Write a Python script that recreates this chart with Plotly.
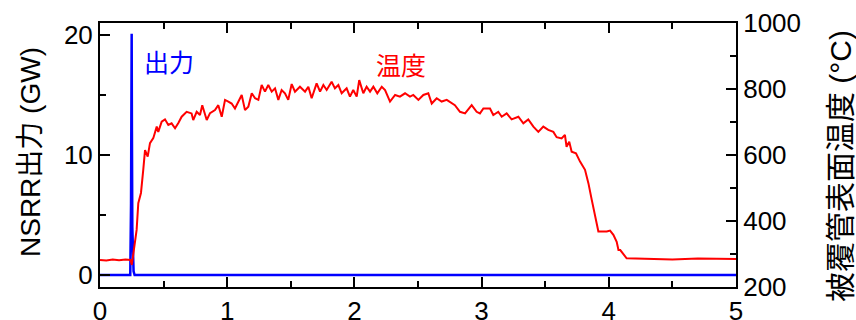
import plotly.graph_objects as go

# Reactor power pulse (GW) vs time (s)
power_time = [0.0, 0.238, 0.244, 0.247, 0.249, 0.251, 0.254, 0.258, 0.264, 0.272, 5.0]
power_gw = [0.0, 0.0, 6.0, 14.0, 20.1, 12.0, 4.0, 1.0, 0.3, 0.0, 0.0]

# Cladding surface temperature (degC) vs time (s)
temp_time = [
    0.0, 0.05, 0.10, 0.15, 0.20, 0.24, 0.25, 0.288, 0.301, 0.322, 0.34, 0.354,
    0.375, 0.393, 0.419, 0.446, 0.458, 0.485, 0.511, 0.537, 0.563, 0.59, 0.616,
    0.642, 0.681, 0.72, 0.733, 0.76, 0.786, 0.804, 0.839, 0.865, 0.904, 0.93,
    0.957, 0.983, 1.009, 1.035, 1.061, 1.114, 1.14, 1.166, 1.193, 1.219, 1.245,
    1.271, 1.297, 1.323, 1.35, 1.376, 1.402, 1.428, 1.454, 1.48, 1.507, 1.533,
    1.572, 1.612, 1.638, 1.664, 1.703, 1.73, 1.756, 1.782, 1.821, 1.847, 1.874,
    1.9, 1.939, 1.965, 1.991, 2.018, 2.038, 2.07, 2.096, 2.123, 2.149, 2.18,
    2.215, 2.241, 2.28, 2.32, 2.358, 2.398, 2.437, 2.463, 2.503, 2.542, 2.581,
    2.608, 2.647, 2.686, 2.726, 2.765, 2.79, 2.83, 2.87, 2.922, 2.961, 2.987,
    3.014, 3.066, 3.092, 3.131, 3.158, 3.197, 3.236, 3.289, 3.328, 3.367, 3.407,
    3.446, 3.485, 3.524, 3.564, 3.59, 3.629, 3.655, 3.668, 3.689, 3.708, 3.742,
    3.774, 3.813, 3.84, 3.866, 3.892, 3.918, 3.984, 4.01, 4.036, 4.062, 4.076,
    4.09, 4.14, 4.3, 4.5, 4.7, 4.9, 5.0,
]
temp_c = [
    282, 280, 283, 281, 283, 282, 267, 373, 454, 485, 555, 615,
    595, 636, 651, 686, 670, 701, 708, 691, 696, 681, 697,
    716, 731, 726, 706, 731, 721, 751, 706, 727, 736, 751,
    716, 767, 762, 756, 741, 782, 736, 746, 787, 772, 767,
    812, 792, 812, 792, 802, 767, 797, 787, 767, 815, 792,
    807, 792, 807, 772, 817, 792, 812, 797, 822, 802, 812,
    787, 802, 777, 797, 777, 827, 787, 807, 792, 807, 787,
    807, 797, 762, 782, 777, 787, 777, 782, 767, 782, 787,
    756, 772, 762, 767, 756, 751, 731, 726, 751, 731, 726,
    741, 741, 721, 731, 716, 726, 708, 716, 696, 708, 686,
    670, 686, 676, 670, 654, 650, 661, 625, 640, 610, 605,
    580, 555, 514, 464, 418, 368, 368, 371, 358, 337, 312,
    312, 287, 285, 283, 286, 284, 285,
]

FONT = "Liberation Sans, Arial, Noto Sans CJK JP, sans-serif"
BLUE = "#0000FF"
RED = "#FF0000"

fig = go.Figure()

fig.add_trace(go.Scatter(
    x=temp_time, y=temp_c, mode="lines", yaxis="y2",
    line=dict(color=RED, width=2), showlegend=False,
))
fig.add_trace(go.Scatter(
    x=power_time, y=power_gw, mode="lines", yaxis="y",
    line=dict(color=BLUE, width=2.5), showlegend=False,
))

axis_common = dict(
    showgrid=False, zeroline=False, showline=True, linecolor="black",
    linewidth=2, ticks="inside", ticklen=10, tickwidth=2, tickcolor="black",
    tickfont=dict(family=FONT, size=26, color="black"), automargin=False,
)

fig.update_layout(
    width=856, height=320,
    margin=dict(l=100, r=120, t=23, b=33),
    paper_bgcolor="white", plot_bgcolor="white",
    font=dict(family=FONT, color="black"),
    xaxis=dict(
        range=[0, 5], dtick=1, mirror="ticks",
        minor=dict(ticks="inside", ticklen=6, tickwidth=2, dtick=0.5, tickcolor="black"),
        **axis_common,
    ),
    yaxis=dict(
        range=[-1, 21], tickvals=[0, 10, 20],
        minor=dict(ticks="inside", ticklen=6, tickwidth=2, tickvals=[5, 15], tickcolor="black"),
        **axis_common,
    ),
    yaxis2=dict(
        overlaying="y", side="right", range=[200, 1000], dtick=200,
        minor=dict(ticks="inside", ticklen=6, tickwidth=2, dtick=100, tickcolor="black"),
        **axis_common,
    ),
    annotations=[
        # axis titles
        dict(x=30, y=152, xref="paper", yref="paper", text="NSRR出力 (GW)",
             textangle=-90, showarrow=False, xanchor="center", yanchor="middle",
             font=dict(family=FONT, size=28)),
        dict(x=840, y=166, xref="paper", yref="paper", text="被覆管表面温度 (°C)",
             textangle=-90, showarrow=False, xanchor="center", yanchor="middle",
             font=dict(family=FONT, size=30)),
        # series labels
        dict(x=0.54, y=17.7, xref="x", yref="y", text="出力", showarrow=False,
             font=dict(family=FONT, size=25, color=BLUE)),
        dict(x=2.37, y=17.4, xref="x", yref="y", text="温度", showarrow=False,
             font=dict(family=FONT, size=25, color=RED)),
    ],
)

# axis titles are placed in pixel units converted to paper fractions
plot_w = 856 - 100 - 120
plot_h = 320 - 23 - 33
for ann in fig.layout.annotations[:2]:
    ann.x = (ann.x - 100) / plot_w
    ann.y = (320 - 33 - ann.y) / plot_h

fig.write_html("out.html")
